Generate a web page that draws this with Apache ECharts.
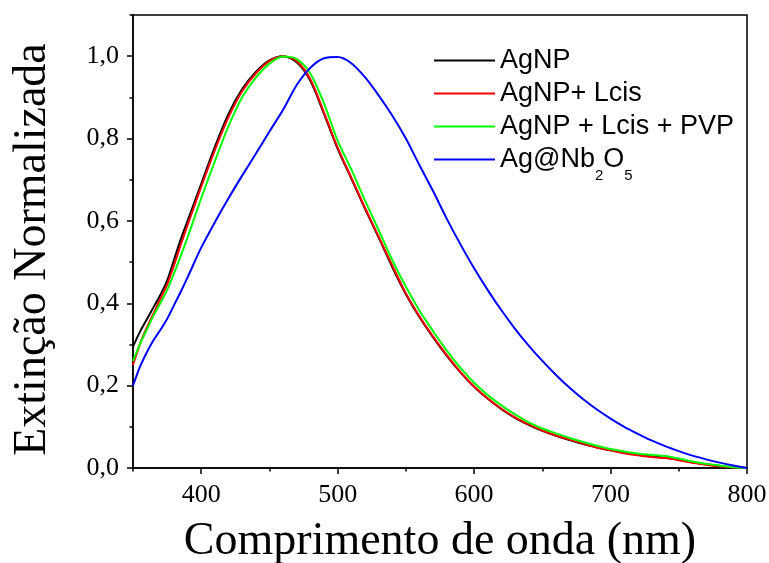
<!DOCTYPE html>
<html>
<head>
<meta charset="utf-8">
<script src="https://cdn.jsdelivr.net/npm/echarts@6/dist/echarts.min.js"></script>
<style>html,body{margin:0;padding:0;background:#fff}#c{width:769px;height:563px}</style>
</head>
<body>
<div id="c"></div>
<script>
var wavelengths = [350,355,360,365,370,375,380,385,390,400,410,420,430,440,450,460,470,480,490,500,510,520,530,540,550,560,570,580,590,600,610,620,630,640,650,660,670,680,690,700,710,720,730,740,750,760,770,780,790,800];
var agnp = [0.295,0.33,0.36,0.39,0.42,0.455,0.505,0.555,0.6,0.69,0.78,0.86,0.92,0.962,0.99,1.0,0.985,0.94,0.86,0.775,0.703,0.63,0.56,0.488,0.422,0.366,0.317,0.272,0.232,0.197,0.168,0.143,0.122,0.105,0.09,0.078,0.068,0.058,0.05,0.043,0.037,0.032,0.028,0.025,0.02,0.014,0.009,0.005,0.002,0.0];
var agnpLcis = [0.25,0.3,0.34,0.375,0.41,0.445,0.492,0.542,0.59,0.683,0.772,0.852,0.915,0.958,0.988,1.0,0.988,0.944,0.863,0.778,0.705,0.632,0.562,0.492,0.424,0.368,0.319,0.274,0.233,0.198,0.169,0.144,0.123,0.106,0.091,0.079,0.069,0.059,0.05,0.043,0.036,0.031,0.027,0.024,0.019,0.013,0.008,0.004,0.001,0.0];
var agnpLcisPvp = [0.26,0.3,0.335,0.37,0.4,0.432,0.472,0.515,0.56,0.655,0.745,0.83,0.9,0.948,0.982,0.999,0.993,0.958,0.885,0.795,0.725,0.65,0.578,0.505,0.44,0.382,0.332,0.285,0.243,0.207,0.177,0.152,0.13,0.111,0.096,0.084,0.073,0.063,0.054,0.046,0.04,0.035,0.032,0.029,0.023,0.016,0.01,0.006,0.002,0.0];
var agNb2o5 = [0.2,0.245,0.28,0.31,0.335,0.362,0.395,0.428,0.463,0.535,0.597,0.655,0.71,0.763,0.817,0.87,0.93,0.972,0.995,0.998,0.983,0.949,0.905,0.856,0.8,0.735,0.672,0.605,0.543,0.485,0.432,0.383,0.338,0.297,0.26,0.226,0.195,0.167,0.142,0.12,0.1,0.083,0.067,0.053,0.041,0.03,0.021,0.013,0.006,0.0];
var seriesNames = ['AgNP','AgNP+ Lcis','AgNP + Lcis + PVP','Ag@Nb2O5'];
var seriesColors = ['#000000','#ff0000','#00ff00','#0000ff'];
var xTicks = [400,500,600,700,800];
var yTicks = [0,0.2,0.4,0.6,0.8,1.0];
var xName = 'Comprimento de onda (nm)';
var yName = 'Extinção Normalizada';

function pairs(vals){ return wavelengths.map(function(w,i){ return [w, vals[i]]; }); }
var allVals = [agnp, agnpLcis, agnpLcisPvp, agNb2o5];

var chart = echarts.init(document.getElementById('c'), null, {renderer:'canvas'});
var serif = '"Liberation Serif", "Times New Roman", serif';
var sans = '"Liberation Sans", Arial, sans-serif';

var option = {
  backgroundColor: '#fff',
  animation: false,
  grid: {left:133, right:22, top:15, bottom:95, outerBoundsMode:'none', containLabel:false,
    show:true, borderColor:'#000', borderWidth:1.5, backgroundColor:'transparent'},
  legend: {
    orient:'vertical', left:434, top:37, padding:0, itemGap:-14,
    itemWidth:61, itemHeight:2, icon:'rect',
    data: seriesNames,
    formatter: function(n){ return n === 'Ag@Nb2O5' ? 'Ag@Nb{sub|2}O{sub|5}' : n; },
    textStyle: {fontFamily:sans, fontSize:27, color:'#000', lineHeight:47,
      rich: {sub: {fontFamily:sans, fontSize:15, color:'#000', verticalAlign:'bottom'}}}
  },
  xAxis: [
    {type:'value', min:350, max:800, position:'bottom',
     name:xName, nameLocation:'middle', nameGap:51,
     nameTextStyle:{fontFamily:serif, fontSize:46, color:'#000'},
     axisLine:{show:true, lineStyle:{color:'#000', width:1.5}},
     axisTick:{show:true, length:6, lineStyle:{color:'#000', width:1.5}, customValues:xTicks},
     axisLabel:{show:true, fontFamily:serif, fontSize:26, color:'#000', margin:14, customValues:xTicks},
     splitLine:{show:false}},
    {type:'value', min:350, max:800, interval:50, position:'bottom',
     axisLine:{show:false}, axisTick:{show:true, length:3.5, lineStyle:{color:'#000', width:1.5}},
     axisLabel:{show:false}, splitLine:{show:false}}
  ],
  yAxis: [
    {type:'value', min:0, max:1.1, position:'left',
     name:yName, nameLocation:'middle', nameGap:77,
     nameTextStyle:{fontFamily:serif, fontSize:46, color:'#000', padding:[0,16,0,0]},
     axisLine:{show:true, lineStyle:{color:'#000', width:1.5}},
     axisTick:{show:true, length:6, lineStyle:{color:'#000', width:1.5}, customValues:yTicks},
     axisLabel:{show:true, fontFamily:serif, fontSize:26, color:'#000', margin:14, customValues:yTicks,
       formatter:function(v){ return v.toFixed(1).replace('.', ','); }},
     splitLine:{show:false}},
    {type:'value', min:0, max:1.1, interval:0.1, position:'left',
     axisLine:{show:false}, axisTick:{show:true, length:3.5, lineStyle:{color:'#000', width:1.5}},
     axisLabel:{show:false}, splitLine:{show:false}}
  ],
  series: seriesNames.map(function(n,i){
    return {name:n, type:'line', xAxisIndex:0, yAxisIndex:0, data:pairs(allVals[i]),
      symbol:'none', smooth:0.3, clip:true,
      lineStyle:{color:seriesColors[i], width:2}, itemStyle:{color:seriesColors[i]}};
  })
};
chart.setOption(option);
</script>
</body>
</html>
